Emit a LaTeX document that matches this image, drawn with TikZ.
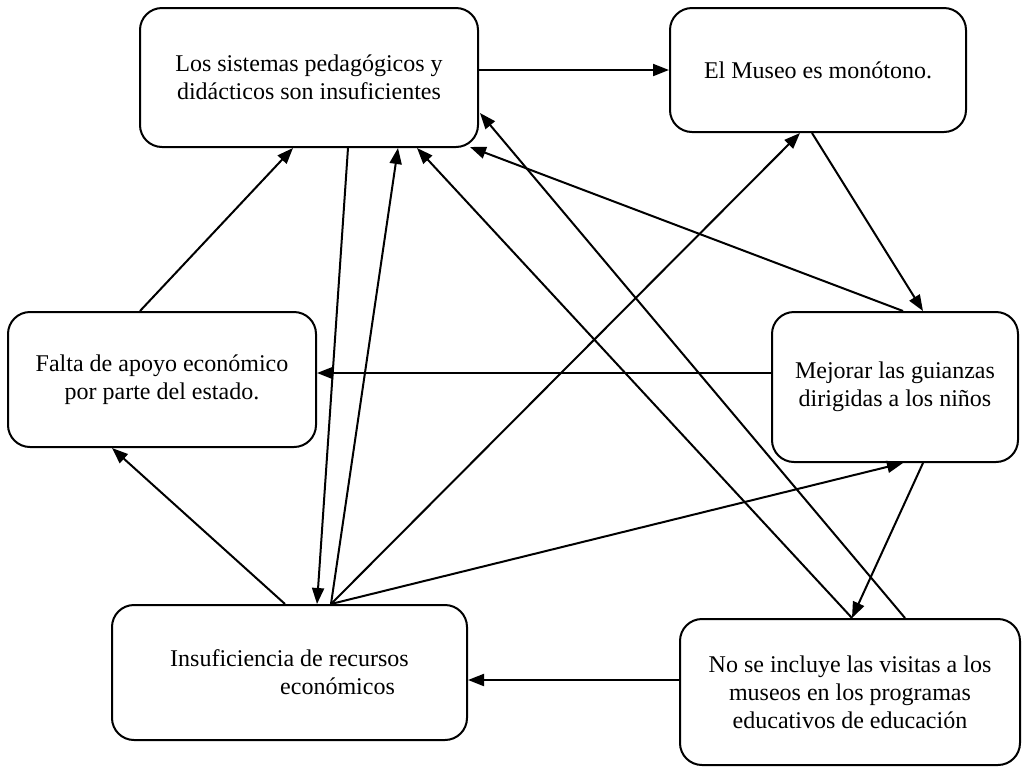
\documentclass[tikz,border=0pt]{standalone}
\usepackage{fontspec}
\setmainfont{Liberation Serif}
\usetikzlibrary{arrows.meta,calc}

\begin{document}
\begin{tikzpicture}[x=0.5pt,y=-0.5pt,
  caja/.style={rectangle, rounded corners=11pt, draw=black, line width=1pt, font=\fontsize{12}{14}\selectfont, inner sep=0pt, align=center},
  flecha/.style={line width=1pt, color=black, -{Triangle[length=8pt,width=6pt]}}]
\useasboundingbox (0,0) rectangle (1025,767);
\node (1) [caja, minimum width=169pt, minimum height=69.5pt] at (309,77.5) {Los sistemas pedagógicos y\\didácticos son insuficientes};
\node (2) [caja, minimum width=148pt, minimum height=62pt] at (818,70) {El Museo es monótono.};
\node (3) [caja, minimum width=154pt, minimum height=67.5pt] at (162,379.5) {Falta de apoyo económico\\por parte del estado.};
\node (4) [caja, minimum width=123pt, minimum height=75pt] at (895,387) {Mejorar las guianzas\\dirigidas a los niños};
\node (5) [caja, minimum width=177.5pt, minimum height=67.5pt, align=left] at (289.5,672.5) {Insuficiencia de recursos\\\hspace*{55pt}económicos};
\node (6) [caja, minimum width=170pt, minimum height=73pt] at (850,692) {No se incluye las visitas a los\\museos en los programas\\educativos de educación};
\draw [flecha] ($(1.east)+(0,-7.5)$) to (2.west);
\draw [flecha] ($(3.north)+(-22,0)$) to ($(1.south)+(-16,0)$);
\draw [flecha] ($(1.south)+(39,0)$) to ($(5.north)+(27.5,0)$);
\draw [flecha] ($(5.north)+(41.5,0)$) to ($(1.south)+(89,0)$);
\draw [flecha] ($(5.north)+(-4.5,0)$) to ($(3.south)+(-50,0)$);
\draw [flecha] ($(6.north)+(2,0)$) to ($(1.south)+(108,0)$);
\draw [flecha] ($(6.north)+(55,0)$) to ($(1.east)+(1,35.5)$);
\draw [flecha] ($(4.north)+(8,0)$) to ($(1.south)+(161,-1)$);
\draw [flecha] ($(2.south)+(-6,0)$) to ($(4.north)+(28,0)$);
\draw [flecha] ($(4.west)+(0,-14)$) to ($(3.east)+(0,-6.5)$);
\draw [flecha] ($(5.north)+(41.5,0)$) to ($(2.south)+(-18,0)$);
\draw [flecha] ($(5.north)+(41.5,0)$) to ($(4.south)+(8,0)$);
\draw [flecha] ($(4.south)+(28,0)$) to ($(6.north)+(2,0)$);
\draw [flecha] ($(6.west)+(0,-12)$) to ($(5.east)+(0,7.5)$);
\end{tikzpicture}
\end{document}
